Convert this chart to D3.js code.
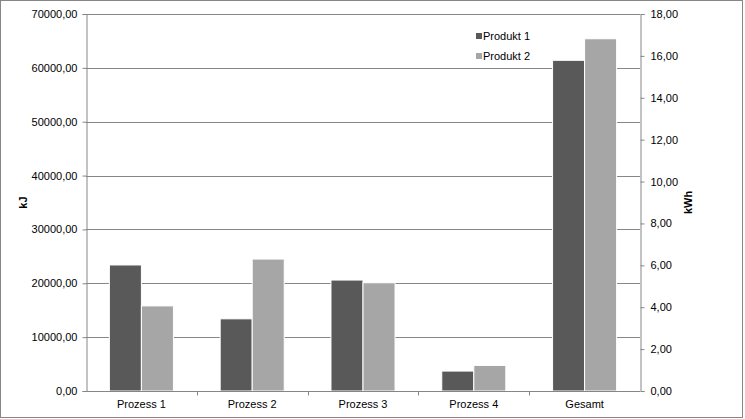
<!DOCTYPE html>
<html lang="de">
    <head>
        <meta charset="utf-8">
        <title>Prozesse kJ / kWh</title>
        <script src="https://d3js.org/d3.v7.min.js"></script>
        <style type="text/css">
            body { margin: 0; background: #fff; }
            svg { display: block; font-family: "Liberation Sans", Arial, sans-serif; }
            .tick text { font-size: 11px; fill: #000; }
        </style>
    </head>
    <body>
        <svg width="745" height="419"></svg>
        <script type="text/javascript">

            // data
            const categories = ["Prozess 1", "Prozess 2", "Prozess 3", "Prozess 4", "Gesamt"];
            const seriesNames = ["Produkt 1", "Produkt 2"];
            const produkt1 = [23400, 13400, 20600, 3700, 61400];
            const produkt2 = [15800, 24500, 20100, 4750, 65400];
            const leftTicks = [0, 10000, 20000, 30000, 40000, 50000, 60000, 70000];
            const rightTicks = [0, 2, 4, 6, 8, 10, 12, 14, 16, 18];

            const colors = ["#595959", "#a6a6a6"];
            const gray = "#868686";

            const svg = d3.select("svg");
            const plotL = 86, plotR = 640, plotT = 14, plotB = 391;

            const fmt = v => d3.format(".2f")(v).replace(".", ",");

            // outer frame
            svg.append("rect")
               .attr("x", 0.5).attr("y", 0.5)
               .attr("width", 742).attr("height", 417)
               .attr("fill", "#fff").attr("stroke", gray);

            const xScale = d3.scaleBand()
                             .domain(categories)
                             .range([plotL, plotR]);

            const xInner = d3.scaleBand()
                             .domain(seriesNames)
                             .range([0, xScale.bandwidth()])
                             .paddingOuter(0.73);

            const yScale = d3.scaleLinear()
                             .domain([0, 70000])
                             .range([plotB, plotT]);

            const y2Scale = d3.scaleLinear()
                              .domain([0, 18])
                              .range([plotB, plotT]);

            // gridlines
            svg.append("g")
               .selectAll("line")
               .data(leftTicks.slice(1))
               .enter()
               .append("line")
               .attr("x1", plotL).attr("x2", plotR)
               .attr("y1", d => Math.round(yScale(d)) + 0.5)
               .attr("y2", d => Math.round(yScale(d)) + 0.5)
               .attr("stroke", gray);

            // bars
            const table = categories.map((c, i) => ({cat: c, vals: [produkt1[i], produkt2[i]]}));

            svg.append("g")
               .selectAll("g")
               .data(table)
               .enter()
               .append("g")
               .attr("transform", d => `translate(${xScale(d.cat)},0)`)
               .selectAll("rect")
               .data(d => d.vals.map((v, j) => ({name: seriesNames[j], v: v, j: j})))
               .enter()
               .append("rect")
               .attr("x", d => xInner(d.name))
               .attr("width", xInner.bandwidth())
               .attr("y", d => yScale(d.v))
               .attr("height", d => plotB - yScale(d.v))
               .attr("fill", d => colors[d.j])
               .attr("stroke", "#fff")
               .attr("stroke-width", 1);

            // axes
            const yAxis = d3.axisLeft(yScale)
                            .tickValues(leftTicks)
                            .tickFormat(fmt)
                            .tickSize(4)
                            .tickPadding(5);

            const y2Axis = d3.axisRight(y2Scale)
                             .tickValues(rightTicks)
                             .tickFormat(fmt)
                             .tickSize(4)
                             .tickPadding(6);

            const xAxis = d3.axisBottom(xScale)
                            .tickSize(0)
                            .tickPadding(9);

            const gy = svg.append("g")
               .attr("transform", `translate(${plotL + 0.5},0)`)
               .call(yAxis);

            const gy2 = svg.append("g")
               .attr("transform", `translate(${plotR + 0.5},0)`)
               .call(y2Axis);

            const gx = svg.append("g")
               .attr("transform", `translate(0,${plotB + 0.5})`)
               .call(xAxis);

            [gy, gy2, gx].forEach(g => {
                g.select(".domain").attr("stroke", gray);
                g.selectAll(".tick line").attr("stroke", gray);
                g.selectAll(".tick text").style("font-size", "11px");
            });
            gx.select(".domain").attr("d", `M${plotL},0H${plotR}`);

            // category boundary ticks
            gx.append("g")
              .selectAll("line")
              .data(categories.slice(1))
              .enter()
              .append("line")
              .attr("x1", d => Math.round(xScale(d)) + 0.5)
              .attr("x2", d => Math.round(xScale(d)) + 0.5)
              .attr("y1", 0).attr("y2", 4)
              .attr("stroke", gray);

            // axis titles
            svg.append("text")
               .attr("transform", `translate(27,${(plotT + plotB) / 2}) rotate(-90)`)
               .attr("text-anchor", "middle")
               .style("font-size", "11px")
               .style("font-weight", "bold")
               .text("kJ");

            svg.append("text")
               .attr("transform", `translate(692,${(plotT + plotB) / 2}) rotate(-90)`)
               .attr("text-anchor", "middle")
               .style("font-size", "11px")
               .style("font-weight", "bold")
               .text("kWh");

            // legend
            const legend = svg.append("g")
               .attr("transform", "translate(476,31)");

            const item = legend.selectAll("g")
               .data(seriesNames)
               .enter()
               .append("g")
               .attr("transform", (d, i) => `translate(0,${i * 20})`);

            item.append("rect")
                .attr("width", 6).attr("height", 6)
                .attr("y", 2)
                .attr("fill", (d, i) => colors[i]);

            item.append("text")
                .attr("x", 7).attr("y", 9)
                .style("font-size", "11px")
                .text(d => d);

        </script>
    </body>
</html>
